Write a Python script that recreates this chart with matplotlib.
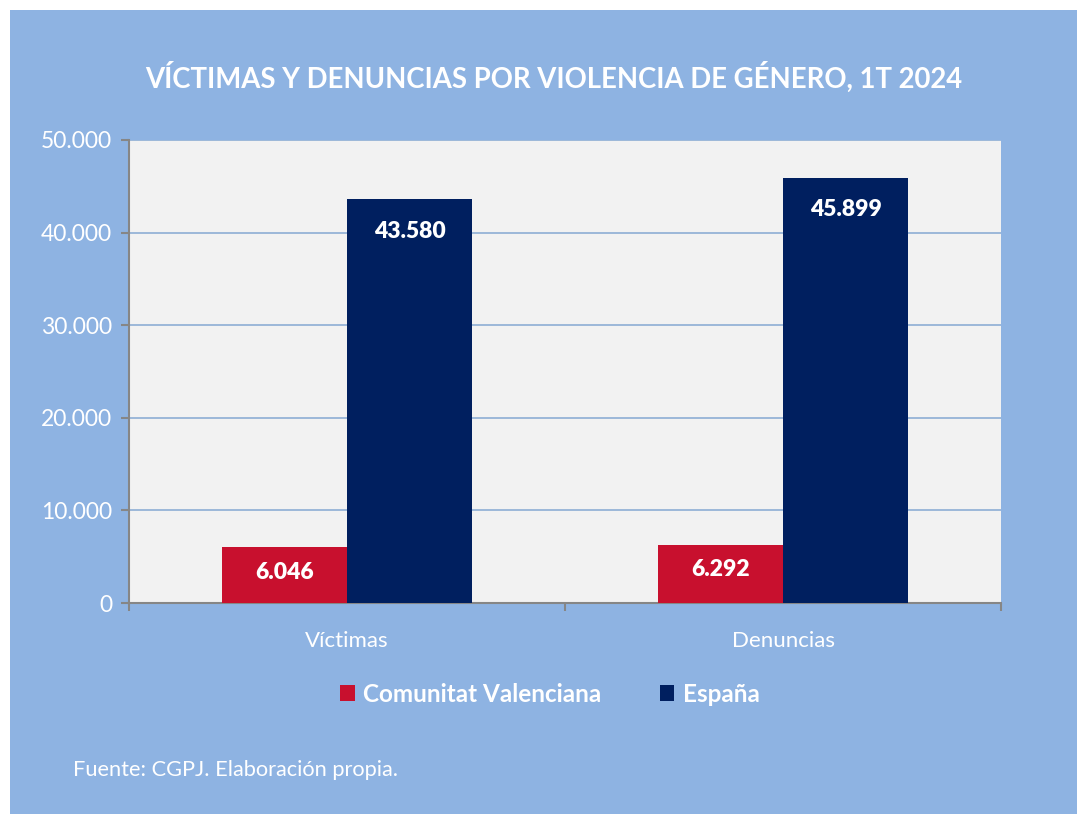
import matplotlib
matplotlib.use("Agg")
import matplotlib.pyplot as plt
import numpy as np
from matplotlib.patches import Rectangle

categories = ["Víctimas", "Denuncias"]
series_names = ["Comunitat Valenciana", "España"]
cv_values = [6046, 6292]
es_values = [43580, 45899]
yticks = [0, 10000, 20000, 30000, 40000, 50000]
ytick_labels = ["0", "10.000", "20.000", "30.000", "40.000", "50.000"]
title = "VÍCTIMAS Y DENUNCIAS POR VIOLENCIA DE GÉNERO, 1T 2024"
source = "Fuente: CGPJ. Elaboración propia."

BG = "#8EB3E2"
PLOT_BG = "#F2F2F2"
RED = "#C8102E"
NAVY = "#001F5F"
GRID = "#95B3D7"
AXIS = "#868686"

plt.rcParams['font.family'] = ['Lato', 'DejaVu Sans']

W, H = 1077, 814
fig = plt.figure(figsize=(W / 100, H / 100), dpi=100)
fig.patch.set_facecolor("white")
bg = Rectangle((10 / W, 0), 1 - 10 / W, 1 - 10 / H, transform=fig.transFigure,
               facecolor=BG, edgecolor="none", zorder=-10)
fig.add_artist(bg)

ax = fig.add_axes([129 / W, 1 - 603 / H, 872 / W, 463 / H])
ax.set_zorder(1)
ax.set_facecolor(PLOT_BG)

x = np.arange(len(categories))
bw = 0.287
b1 = ax.bar(x - bw / 2, cv_values, bw, color=RED, zorder=3)
b2 = ax.bar(x + bw / 2, es_values, bw, color=NAVY, zorder=3)

for bars, vals, off in ((b1, cv_values, -18), (b2, es_values, -23)):
    for b, v in zip(bars, vals):
        ax.annotate(f"{v:,}".replace(",", "."), (b.get_x() + b.get_width() / 2, v),
                    xytext=(0, off), textcoords="offset points", ha="center", va="center",
                    color="white", fontsize=16.5, fontweight="heavy", zorder=4)

ax.set_xlim(-0.5, 1.5)
ax.set_ylim(0, 50000)
ax.set_yticks(yticks)
ax.set_yticklabels(ytick_labels)
ax.yaxis.grid(True, color=GRID, linewidth=1.3, zorder=1)
ax.set_axisbelow(True)

ax.set_xticks(x)
ax.set_xticklabels(categories)
ax.tick_params(axis="x", length=0, pad=20, labelsize=16, labelcolor="white")
ax.set_xticks([-0.5, 0.5, 1.5], minor=True)
ax.tick_params(axis="x", which="minor", length=6, width=1.5, color=AXIS, direction="out")
ax.tick_params(axis="y", length=6, width=1.5, color=AXIS, labelsize=16.5, labelcolor="white", pad=6)

for s in ("top", "right"):
    ax.spines[s].set_visible(False)
for s in ("left", "bottom"):
    ax.spines[s].set_color(AXIS)
    ax.spines[s].set_linewidth(1.5)

fig.text(554 / W, 1 - 77 / H, title, ha="center", va="center", color="white",
         fontsize=19.8, fontweight="bold")

leg = fig.legend([b1, b2], series_names, loc="center", bbox_to_anchor=(550 / W, 1 - 694 / H),
                 ncol=2, frameon=False, fontsize=17.5, handlelength=0.6, handleheight=0.6,
                 handletextpad=0.35, columnspacing=2.4)
for t in leg.get_texts():
    t.set_color("white")
    t.set_fontweight("bold")

fig.text(73 / W, 1 - 770 / H, source, ha="left", va="center", color="white", fontsize=15.7)

fig.savefig("out.png", dpi=100, facecolor=fig.get_facecolor())
